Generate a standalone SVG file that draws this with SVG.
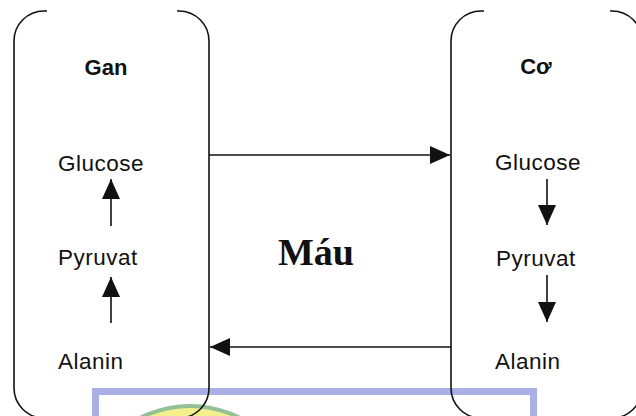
<svg xmlns="http://www.w3.org/2000/svg" width="636" height="416" viewBox="0 0 636 416">
  <defs>
    <style>
      .box { fill: none; stroke: #111; stroke-width: 1.6; }
      .lbl { font-family: "Liberation Sans", Arial, sans-serif; font-size: 22.5px; letter-spacing: 0.5px; fill: #111; }
      .ttl { font-family: "Liberation Sans", Arial, sans-serif; font-size: 22px; font-weight: bold; fill: #111; }
      .blood { font-family: "Liberation Serif", "Times New Roman", serif; font-size: 38px; font-weight: bold; fill: #111; }
      .conn { stroke: #111; stroke-width: 1.6; fill: none; marker-end: url(#head); }
    </style>
    <marker id="head" markerUnits="userSpaceOnUse" markerWidth="20" markerHeight="18" refX="20" refY="9" orient="auto">
      <path d="M0,0 L20,9 L0,18 Z" fill="#111"/>
    </marker>
  </defs>
  <rect width="636" height="416" fill="#ffffff"/>
  <g id="watermark">
    <rect x="95.5" y="391.5" width="438" height="40" fill="#ffffff" stroke="#aab0e6" stroke-width="7"/>
    <circle cx="190" cy="516" r="110" fill="#f3f08c" stroke="#93c096" stroke-width="4"/>
  </g>
  <g id="gan">
    <path class="box" d="M47 11 L44 11 A30 30 0 0 0 14 41 L14 388 A30 30 0 0 0 44 418 L179 418 A30 30 0 0 0 209 388 L209 41 A30 30 0 0 0 179 11 L177 11"/>
    <text class="ttl" x="106" y="75" text-anchor="middle">Gan</text>
    <text class="lbl" x="58" y="170.5">Glucose</text>
    <text class="lbl" x="58" y="265">Pyruvat</text>
    <text class="lbl" x="58" y="369">Alanin</text>
  </g>
  <g id="co">
    <path class="box" d="M484 11 L481 11 A30 30 0 0 0 451 41 L451 388 A30 30 0 0 0 481 418 L612 418 A30 30 0 0 0 642 388 L642 41 A30 30 0 0 0 612 11 L610 11"/>
    <text class="ttl" x="536" y="74" text-anchor="middle">Cơ</text>
    <text class="lbl" x="495" y="170">Glucose</text>
    <text class="lbl" x="496" y="266">Pyruvat</text>
    <text class="lbl" x="495" y="369">Alanin</text>
  </g>
  <g id="mau">
    <text class="blood" x="316" y="265" text-anchor="middle">Máu</text>
  </g>
  <g id="connectors">
    <line class="conn" x1="111" y1="226" x2="111" y2="179"/>
    <line class="conn" x1="111" y1="323" x2="111" y2="277"/>
    <line class="conn" x1="547" y1="179" x2="547" y2="225"/>
    <line class="conn" x1="547" y1="275" x2="547" y2="322"/>
    <line class="conn" x1="209" y1="155" x2="450" y2="155"/>
    <line class="conn" x1="451" y1="347" x2="210" y2="347"/>
  </g>
</svg>
